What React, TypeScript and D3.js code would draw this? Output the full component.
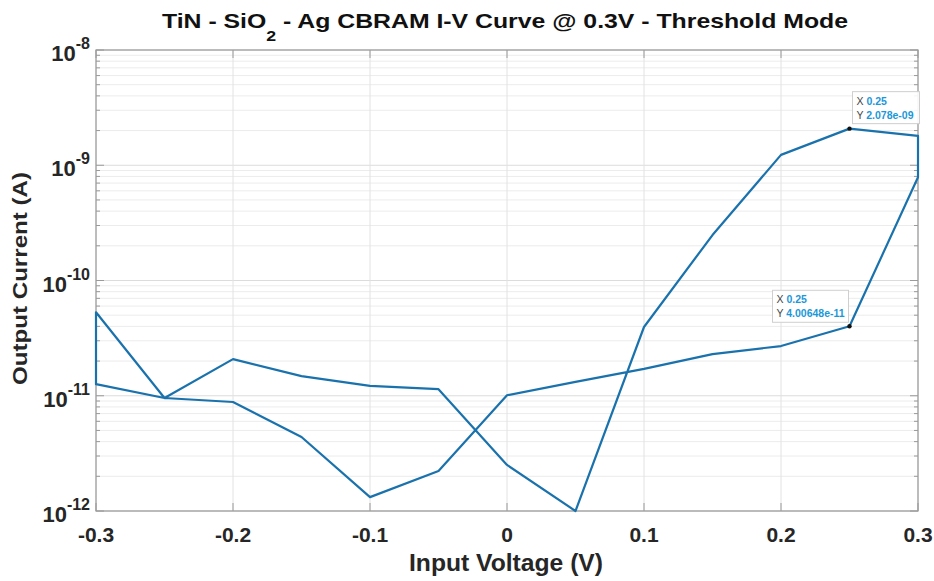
import React from 'react';
import * as d3 from 'd3';

const voltage = [0, 0.05, 0.1, 0.15, 0.2, 0.25, 0.3, 0.3, 0.25, 0.2, 0.15, 0.1, 0.05, 0, -0.05, -0.1, -0.15, -0.2, -0.25, -0.3, -0.3, -0.25, -0.2, -0.15, -0.1, -0.05, 0];
const current = [2.51e-12, 1.0e-12, 3.95e-11, 2.48e-10, 1.23e-9, 2.078e-9, 1.8e-9, 7.86e-10, 4.00648e-11, 2.7e-11, 2.3e-11, 1.71e-11, 1.32e-11, 1.01e-11, 2.22e-12, 1.32e-12, 4.39e-12, 8.83e-12, 9.56e-12, 1.26e-11, 5.3e-11, 9.56e-12, 2.08e-11, 1.48e-11, 1.22e-11, 1.14e-11, 2.51e-12];

const xTicks = [-0.3, -0.2, -0.1, 0, 0.1, 0.2, 0.3];
const xTickLabels = ['-0.3', '-0.2', '-0.1', '0', '0.1', '0.2', '0.3'];
const yExponents = [-12, -11, -10, -9, -8];

const tipX = [0.25, 0.25];
const tipY = [2.078e-9, 4.00648e-11];
const tipYLabels = ['2.078e-09', '4.00648e-11'];
const tipSide = ['right', 'left'];

const FONT = '"Liberation Sans", Arial, Helvetica, sans-serif';
const LINE = '#1a72ad';

export default function App() {
  const W = 934, H = 581;
  const L = 96, R = 918, T = 50, B = 511;
  const x = d3.scaleLinear().domain([-0.3, 0.3]).range([L, R]);
  const y = d3.scaleLog().domain([1e-12, 1e-8]).range([B, T]);

  const minor: number[] = [];
  for (let e = -12; e < -8; e++) for (let k = 2; k <= 9; k++) minor.push(k * Math.pow(10, e));

  const line = d3.line<number>().x((_, i) => x(voltage[i])).y((_, i) => y(current[i]));
  const path = line(voltage) || '';

  return (
    <svg width={W} height={H} style={{ position: 'absolute', left: 0, top: 0, background: '#fff' }} fontFamily={FONT}>
      <rect x={0} y={0} width={W} height={H} fill="#fff" />
      {/* minor grid */}
      {minor.map((v, i) => (
        <line key={'mg' + i} x1={L} x2={R} y1={y(v)} y2={y(v)} stroke="#ececec" strokeWidth={1} />
      ))}
      {/* major grid */}
      {yExponents.map((e) => (
        <line key={'yg' + e} x1={L} x2={R} y1={y(Math.pow(10, e))} y2={y(Math.pow(10, e))} stroke="#dcdcdc" strokeWidth={1} />
      ))}
      {xTicks.map((t) => (
        <line key={'xg' + t} x1={x(t)} x2={x(t)} y1={T} y2={B} stroke="#e2e2e2" strokeWidth={1} />
      ))}
      {/* axes box */}
      <rect x={L} y={T} width={R - L} height={B - T} fill="none" stroke="#9a9a9a" strokeWidth={1.2} />
      {/* ticks */}
      {xTicks.map((t) => (
        <g key={'xt' + t}>
          <line x1={x(t)} x2={x(t)} y1={B} y2={B - 8} stroke="#9a9a9a" />
          <line x1={x(t)} x2={x(t)} y1={T} y2={T + 8} stroke="#9a9a9a" />
        </g>
      ))}
      {yExponents.map((e) => (
        <g key={'yt' + e}>
          <line x1={L} x2={L + 8} y1={y(Math.pow(10, e))} y2={y(Math.pow(10, e))} stroke="#9a9a9a" />
          <line x1={R} x2={R - 8} y1={y(Math.pow(10, e))} y2={y(Math.pow(10, e))} stroke="#9a9a9a" />
        </g>
      ))}
      {minor.map((v, i) => (
        <g key={'mt' + i}>
          <line x1={L} x2={L + 4} y1={y(v)} y2={y(v)} stroke="#9a9a9a" />
          <line x1={R} x2={R - 4} y1={y(v)} y2={y(v)} stroke="#9a9a9a" />
        </g>
      ))}
      {/* data line */}
      <path d={path} fill="none" stroke={LINE} strokeWidth={2.2} strokeLinejoin="round" />
      {/* data tips */}
      {tipX.map((tx, i) => {
        const px = x(tx), py = y(tipY[i]);
        const w = tipSide[i] === 'right' ? 67 : 76;
        const h = 32;
        const bx = tipSide[i] === 'right' ? px + 3 : px - w - 1;
        const by = tipSide[i] === 'right' ? py - h - 5 : py - h - 4;
        return (
          <g key={'tip' + i}>
            <rect x={bx} y={by} width={w} height={h} fill="#fff" fillOpacity={0.9} stroke="#cfcfcf" strokeWidth={1} />
            <text x={bx + 4} y={by + 13} fontSize={10.5} fill="#444">X <tspan fill="#1b98d8" fontWeight="bold">{String(tx)}</tspan></text>
            <text x={bx + 4} y={by + 27} fontSize={10.5} fill="#444">Y <tspan fill="#1b98d8" fontWeight="bold">{tipYLabels[i]}</tspan></text>
            <circle cx={px} cy={py} r={2.2} fill="#111" />
          </g>
        );
      })}
      {/* y tick labels */}
      {yExponents.map((e) => (
        <text key={'yl' + e} x={L - 6} y={y(Math.pow(10, e)) + 11} textAnchor="end" fontSize={22} fontWeight="bold" fill="#262626">
          10<tspan fontSize={16} dy={-12}>{String(e)}</tspan>
        </text>
      ))}
      {/* x tick labels */}
      {xTicks.map((t, i) => (
        <text key={'xl' + t} x={x(t)} y={B + 31} textAnchor="middle" fontSize={21} fontWeight="bold" fill="#262626">
          {xTickLabels[i]}
        </text>
      ))}
      {/* axis labels */}
      <text x={(L + R) / 2 - 1} y={571} textAnchor="middle" fontSize={24} fontWeight="bold" fill="#262626" textLength={194} lengthAdjust="spacingAndGlyphs">Input Voltage (V)</text>
      <text transform={`translate(27, 278.5) rotate(-90)`} textAnchor="middle" fontSize={20} fontWeight="bold" fill="#262626" textLength={213} lengthAdjust="spacingAndGlyphs">Output Current (A)</text>
      {/* title */}
      <text x={(L + R) / 2 - 2} y={28} textAnchor="middle" fontSize={21} fontWeight="bold" fill="#111" textLength={686} lengthAdjust="spacingAndGlyphs">
        TiN - SiO<tspan fontSize={15} dy={13}>2</tspan><tspan dy={-13}> - Ag CBRAM I-V Curve @ 0.3V - Threshold Mode</tspan>
      </text>
    </svg>
  );
}
